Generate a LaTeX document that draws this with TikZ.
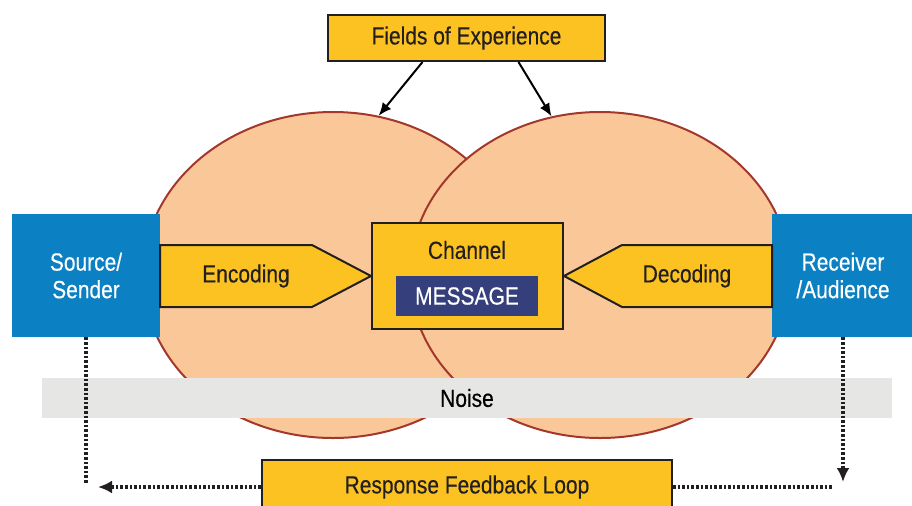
\documentclass[tikz,border=0pt]{standalone}
\usepackage{fontspec}
\setmainfont{Liberation Sans}[FakeStretch=0.845, FakeBold=0.3]
\usetikzlibrary{arrows.meta,shapes.geometric}

\definecolor{peach}{HTML}{FAC898}
\definecolor{rimred}{HTML}{A3372B}
\definecolor{boxyellow}{HTML}{FBC221}
\definecolor{srcblue}{HTML}{0B80C2}
\definecolor{msgnavy}{HTML}{343F7B}
\definecolor{noisegray}{HTML}{E6E6E5}
\definecolor{inkdark}{HTML}{231F20}

\tikzset{
  field/.style={ellipse, draw=rimred, line width=1pt, fill=peach,
    minimum width=190pt, minimum height=163pt},
  ybox/.style={draw=inkdark, line width=1pt, fill=boxyellow, text=inkdark},
  bluebox/.style={fill=srcblue, text=white, align=center,
    minimum width=74pt, minimum height=61.5pt},
  loopline/.style={inkdark, line width=1.6pt, dash pattern=on 1.3pt off 1pt},
}

\begin{document}
\begin{tikzpicture}[x=0.5pt, y=-0.5pt, >={Latex[length=6.5pt,width=5.5pt]},
  font=\fontsize{12.4}{13.8}\selectfont]
\useasboundingbox (0,0) rectangle (912,505);

% fields of experience
\node[field] (fieldL) at (333,275) {};
\node[field] (fieldR) at (600,275) {};

\node[fill=noisegray, minimum width=425pt, minimum height=20pt] (noise) at (467,398) {Noise};

\node[ybox, minimum width=138.5pt, minimum height=23pt] (fields) at (466.5,38) {Fields of Experience};
\draw[line width=1pt, ->] ([xshift=-22pt]fields.south) -- (fieldL.74);
\draw[line width=1pt, ->] ([xshift=26pt]fields.south) -- (fieldR.107);

\node[bluebox] (src) at (86,275.5) {Source/\\Sender};
\node[bluebox, minimum width=71pt] (rcv) at (843,275.5) {Receiver\\/Audience};

\node[ybox, minimum width=95.5pt, minimum height=53pt] (chan) at (467.5,276) {};
\node[text=inkdark] (chantxt) at (467,250) {Channel};
\node[fill=msgnavy, text=white, minimum width=71pt, minimum height=20pt] (msg) at (467,296) {MESSAGE};

\draw[ybox] (160,245) -- (312,245) -- (chan.west) -- (312,307) -- (160,307) -- cycle;
\node[text=inkdark] (enc) at (246,276) {Encoding};
\draw[ybox] (772,245) -- (622,245) -- (chan.east) -- (622,307) -- (772,307) -- cycle;
\node[text=inkdark] (dec) at (687,276) {Decoding};

% response loop
\node[ybox, minimum width=205pt, minimum height=27pt] (fb) at (467,487) {Response Feedback Loop};
\draw[loopline, -{Latex[length=7pt,width=6.5pt]}] (rcv.south) -- ([yshift=2.5pt]rcv.south |- fb.east);
\draw[loopline] (fb.east) -- ([xshift=-5pt]rcv.south |- fb.east);
\draw[loopline, -{Latex[length=7pt,width=6.5pt]}] (fb.west) -- ([xshift=6pt]src.south |- fb.west);
\draw[loopline] (src.south) -- ([yshift=1.5pt]src.south |- fb.west);
\end{tikzpicture}
\end{document}
